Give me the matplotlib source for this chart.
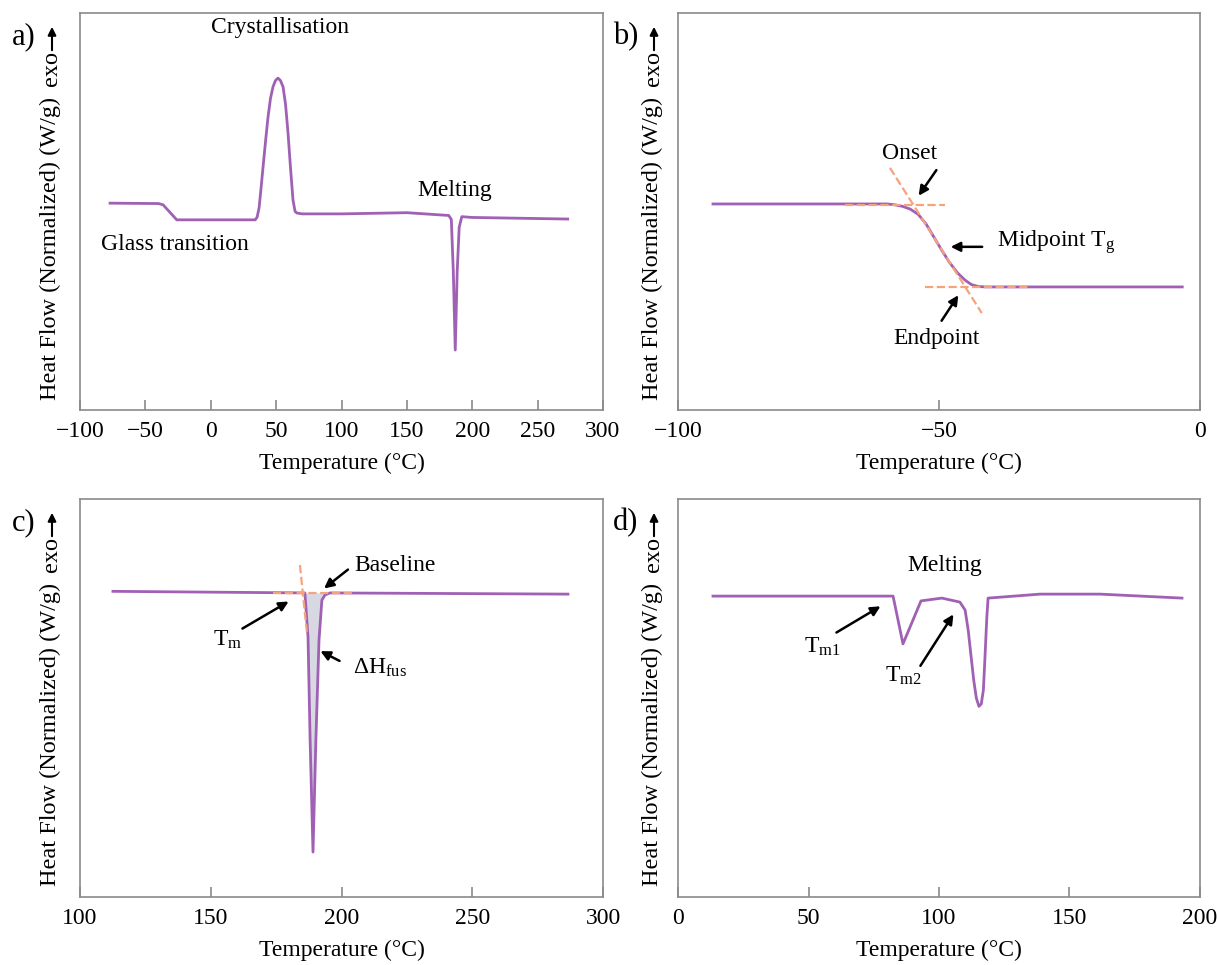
import matplotlib
matplotlib.use("Agg")
import matplotlib.pyplot as plt

plt.rcParams['font.family'] = ['Liberation Serif', 'DejaVu Serif']
plt.rcParams['mathtext.fontset'] = 'custom'
plt.rcParams['mathtext.rm'] = 'Liberation Serif'
plt.rcParams['mathtext.it'] = 'Liberation Serif:italic'

PURPLE = "#a060b4"
ORANGE = "#f6a27c"
FILL = "#d8d8e2"
SPINE = "#8a8a8a"
FS = 17

# a) full DSC scan
temp_a = [-77, -40, -36.5, -26, 34, 35.5, 37, 38.5, 40, 42, 43.8, 45.7, 47.6, 49.5, 51.4,
          53.3, 55.3, 57.2, 59.1, 61, 62.9, 64.5, 66, 70,
          100, 150, 182, 184, 185.5, 187, 188.5, 190, 192, 200, 273]
hf_a = [5.21, 5.20, 5.17, 4.79, 4.79, 4.86, 5.1, 5.6, 6.12, 6.8, 7.38, 7.85, 8.14, 8.3, 8.36,
        8.3, 8.14, 7.7, 6.98, 6.1, 5.29, 5.0, 4.96, 4.94,
        4.94, 4.97, 4.90, 4.80, 3.5, 1.51, 3.5, 4.6, 4.87, 4.85, 4.81]

# b) glass transition
temp_b = [-93.3, -62, -60, -58.5, -57, -55.5, -54, -52.5, -51, -49.5, -48, -46.5, -45,
          -43.8, -42.5, -41, -3.4]
hf_b = [5.19, 5.19, 5.19, 5.17, 5.13, 5.06, 4.93, 4.69, 4.36, 4.03, 3.72, 3.46, 3.27,
        3.16, 3.11, 3.10, 3.10]
onset_b = (-54.6, 5.17)
endpoint_b = (-45.4, 3.10)

# c) melting peak with enthalpy area
temp_c = [112.6, 186.0, 187.2, 188.0, 189.1, 190.2, 191.4, 192.5, 193.7, 195.6, 286.6]
hf_c = [7.68, 7.64, 6.53, 3.94, 1.13, 3.94, 6.46, 7.46, 7.59, 7.64, 7.61]
baseline_c = 7.64

# d) double melting
temp_d = [13.4, 82.4, 86.2, 93.1, 101.1, 108.0, 110.0, 111.2, 112.2, 113.3, 114.3, 115.3,
          116.2, 117.0, 117.6, 118.3, 118.8, 138.7, 161.7, 193.1]
hf_d = [7.56, 7.56, 6.36, 7.44, 7.51, 7.41, 7.21, 6.7, 6.1, 5.45, 5.0, 4.79,
        4.85, 5.2, 6.0, 7.0, 7.51, 7.61, 7.61, 7.51]

fig = plt.figure(figsize=(12.17, 9.65), dpi=100)
W, H = 1217, 965


def make_axes(left, top, right, bottom):
    return fig.add_axes([left / W, 1 - bottom / H, (right - left) / W, (bottom - top) / H])


def style(ax, xlim, xticks, label, xpix, ypix):
    # ypix: top of the axes in pixels, xpix: centre of the y label
    ax.set_xlim(*xlim)
    ax.set_ylim(0, 10)
    ax.set_xticks(xticks)
    ax.set_xticklabels([str(t).replace("-", "\u2212") for t in xticks])
    ax.set_yticks([])
    for sp in ax.spines.values():
        sp.set_color(SPINE)
        sp.set_linewidth(1.2)
    ax.tick_params(axis='x', direction='in', length=7, width=1.2, color=SPINE,
                   labelsize=FS, pad=8)
    ax.set_xlabel("Temperature (°C)", fontsize=FS, labelpad=8)
    fig.text(xpix / W, 1 - (ypix + 235) / H, "Heat Flow (Normalized) (W/g)", rotation=90,
             ha='center', va='center', fontsize=17.5)
    fig.text((xpix + 1) / W, 1 - (ypix + 56) / H, "exo", rotation=90,
             ha='center', va='center', fontsize=17.5)
    fig.add_artist(matplotlib.patches.FancyArrowPatch(
        ((xpix + 2) / W, 1 - (ypix + 40) / H), ((xpix + 2) / W, 1 - (ypix + 11) / H),
        transform=fig.transFigure, arrowstyle='-|>', mutation_scale=12, lw=1.5, color='black'))
    fig.text((xpix - 26) / W, 1 - (ypix + 24) / H, label, ha='center', va='center', fontsize=22)


def arrow(ax, text_xy, tail, head, text, ha='center'):
    ax.annotate("", xy=head, xytext=tail,
                arrowprops=dict(arrowstyle='-|>', color='black', lw=1.8, mutation_scale=14))
    if text:
        ax.text(*text_xy, text, ha=ha, va='center', fontsize=FS)


ax_a = make_axes(80, 13, 603, 410)
ax_b = make_axes(678, 13, 1200, 410)
ax_c = make_axes(80, 499, 603, 897)
ax_d = make_axes(678, 499, 1200, 897)

# a)
ax_a.plot(temp_a, hf_a, color=PURPLE, lw=2)
style(ax_a, (-100, 300), [-100, -50, 0, 50, 100, 150, 200, 250, 300], "a)", 50, 13)
ax_a.text(53, 9.64, "Crystallisation", ha='center', va='center', fontsize=FS)
ax_a.text(186.8, 5.54, "Melting", ha='center', va='center', fontsize=FS)
ax_a.text(-27.3, 4.16, "Glass transition", ha='center', va='center', fontsize=FS)

# b)
ax_b.plot(temp_b, hf_b, color=PURPLE, lw=2)
ax_b.plot([-68.0, -48.9], [onset_b[1], onset_b[1]], color=ORANGE, ls='--', lw=1.6)
ax_b.plot([-52.7, -32.6], [endpoint_b[1], endpoint_b[1]], color=ORANGE, ls='--', lw=1.6)
ax_b.plot([-59.4, -41.8], [6.10, 2.44], color=ORANGE, ls='--', lw=1.6)
style(ax_b, (-100, 0), [-100, -50, 0], "b)", 652, 13)
arrow(ax_b, (-55.6, 6.47), (-50.2, 6.10), (-54.2, 5.34), "Onset")
arrow(ax_b, (-38.9, 4.23), (-41.2, 4.11), (-48.3, 4.11), "Midpoint T$_\\mathrm{g}$", ha='left')
arrow(ax_b, (-50.4, 1.81), (-49.8, 2.19), (-46.0, 2.95), "Endpoint")

# c)
ax_c.fill_between(temp_c[1:10], hf_c[1:10], baseline_c, color=FILL, lw=0)
ax_c.plot(temp_c, hf_c, color=PURPLE, lw=2)
ax_c.plot([173.8, 205.2], [baseline_c, baseline_c], color=ORANGE, ls='--', lw=1.6)
ax_c.plot([184.1, 186.8], [8.34, 6.63], color=ORANGE, ls='--', lw=1.6)
style(ax_c, (100, 300), [100, 150, 200, 250, 300], "c)", 50, 499)
arrow(ax_c, (220.5, 8.34), (203.3, 8.27), (192.5, 7.71), "Baseline")
arrow(ax_c, (156.6, 6.46), (161.2, 6.71), (180.7, 7.46), "T$_\\mathrm{m}$")
arrow(ax_c, (204.4, 5.75), (200.2, 5.90), (191.0, 6.21), "ΔH$_\\mathrm{fus}$", ha='left')

# d)
ax_d.plot(temp_d, hf_d, color=PURPLE, lw=2)
style(ax_d, (0, 200), [0, 50, 100, 150, 200], "d)", 652, 499)
ax_d.text(102.3, 8.34, "Melting", ha='center', va='center', fontsize=FS)
arrow(ax_d, (55.2, 6.28), (59.8, 6.61), (78.5, 7.34), "T$_\\mathrm{m1}$")
arrow(ax_d, (86.2, 5.55), (92.3, 5.75), (106.1, 7.16), "T$_\\mathrm{m2}$")

fig.savefig("out.png", dpi=100)
